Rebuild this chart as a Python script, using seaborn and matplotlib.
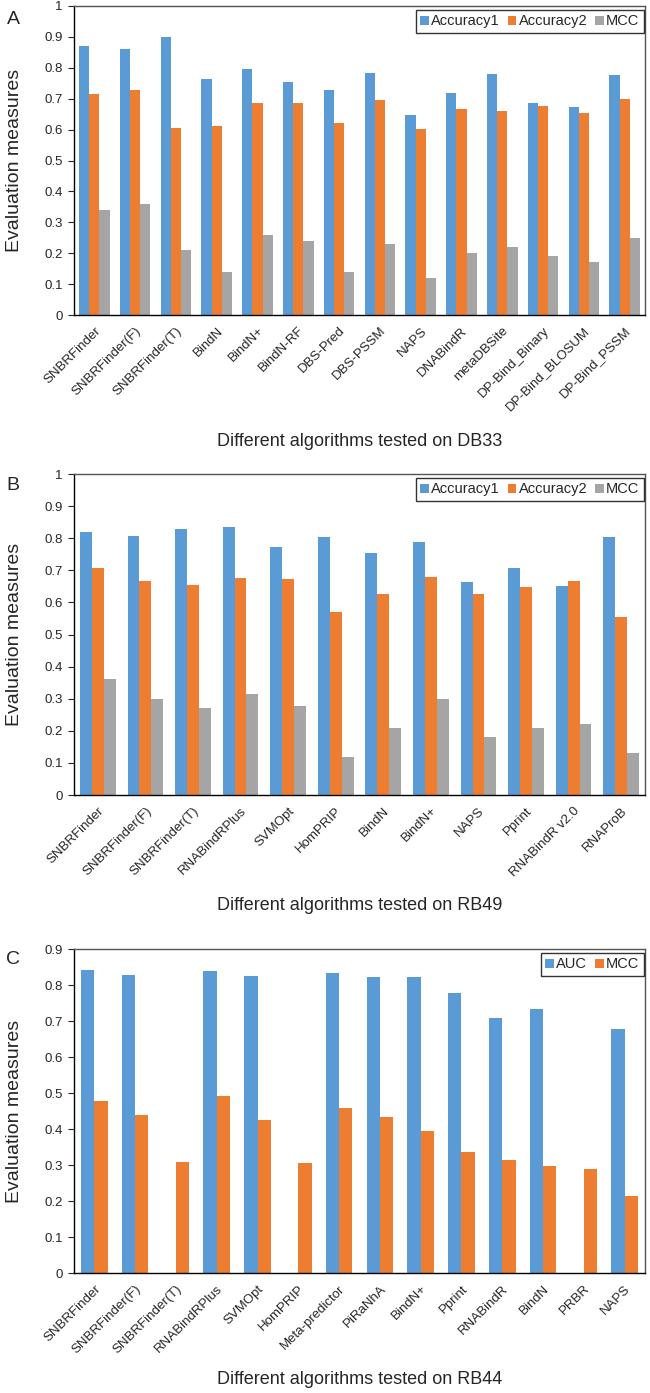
import numpy as np
import pandas as pd
import seaborn as sns
import matplotlib.pyplot as plt

# -----------------------------
# Data
# -----------------------------
algos_a = ['SNBRFinder', 'SNBRFinder(F)', 'SNBRFinder(T)', 'BindN', 'BindN+', 'BindN-RF',
           'DBS-Pred', 'DBS-PSSM', 'NAPS', 'DNABindR', 'metaDBSite', 'DP-Bind_Binary',
           'DP-Bind_BLOSUM', 'DP-Bind_PSSM']
acc1_a = [0.870, 0.860, 0.900, 0.765, 0.795, 0.753, 0.727, 0.783, 0.647, 0.720, 0.780, 0.686, 0.673, 0.776]
acc2_a = [0.716, 0.727, 0.604, 0.613, 0.686, 0.686, 0.621, 0.695, 0.601, 0.666, 0.660, 0.676, 0.653, 0.699]
mcc_a = [0.34, 0.36, 0.21, 0.14, 0.26, 0.24, 0.14, 0.23, 0.12, 0.20, 0.22, 0.19, 0.17, 0.25]

algos_b = ['SNBRFinder', 'SNBRFinder(F)', 'SNBRFinder(T)', 'RNABindRPlus', 'SVMOpt', 'HomPRIP',
           'BindN', 'BindN+', 'NAPS', 'Pprint', 'RNABindR v2.0', 'RNAProB']
acc1_b = [0.818, 0.806, 0.829, 0.834, 0.773, 0.803, 0.755, 0.787, 0.665, 0.707, 0.650, 0.804]
acc2_b = [0.708, 0.667, 0.653, 0.677, 0.672, 0.569, 0.627, 0.678, 0.627, 0.647, 0.668, 0.556]
mcc_b = [0.360, 0.300, 0.270, 0.315, 0.277, 0.117, 0.210, 0.300, 0.180, 0.210, 0.220, 0.130]

algos_c = ['SNBRFinder', 'SNBRFinder(F)', 'SNBRFinder(T)', 'RNABindRPlus', 'SVMOpt', 'HomPRIP',
           'Meta-predictor', 'PiRaNhA', 'BindN+', 'Pprint', 'RNABindR', 'BindN', 'PRBR', 'NAPS']
auc_c = [0.842, 0.827, np.nan, 0.839, 0.825, np.nan, 0.834, 0.822, 0.821, 0.778, 0.708, 0.732, np.nan, 0.678]
mcc_c = [0.479, 0.439, 0.308, 0.492, 0.425, 0.306, 0.457, 0.433, 0.395, 0.337, 0.314, 0.296, 0.290, 0.214]

colors = {'Accuracy1': '#5B9BD5', 'Accuracy2': '#ED7D31', 'MCC': '#A5A5A5', 'AUC': '#5B9BD5'}

sns.set_theme(style='white')
plt.rcParams['font.family'] = ['Liberation Sans', 'DejaVu Sans']

W, H = 650, 1393


def to_long(algos, series):
    frames = []
    for name, vals in series.items():
        frames.append(pd.DataFrame({'Algorithm': algos, 'Measure': name, 'Value': vals}))
    return pd.concat(frames, ignore_index=True)


def make_axes(top_px, bottom_px):
    left, right = 74, 645
    return fig.add_axes([left / W, 1 - bottom_px / H, (right - left) / W, (bottom_px - top_px) / H])


def draw_panel(ax, df, palette, width, ymax, xlabel, xlabel_y):
    sns.barplot(data=df, x='Algorithm', y='Value', hue='Measure', palette=palette,
                width=width, gap=0, ax=ax, saturation=1, linewidth=0)
    ax.set_ylim(0, ymax)
    ax.set_xlim(-0.5, len(df['Algorithm'].unique()) - 0.5)
    ticks = np.round(np.arange(0, ymax + 0.001, 0.1), 1)
    ax.set_yticks(ticks)
    ax.set_yticklabels([('%g' % t) for t in ticks], fontsize=9.5)
    ax.tick_params(axis='y', direction='out', length=4, width=0.8, left=True, pad=4)
    ax.tick_params(axis='x', length=0, pad=7)
    for lab in ax.get_xticklabels():
        lab.set_rotation(45)
        lab.set_ha('right')
        lab.set_rotation_mode('anchor')
        lab.set_fontsize(9.5)
    ax.set_xlabel(xlabel, fontsize=13)
    ax.xaxis.label.set_va('center')
    ax.xaxis.set_label_coords(0.5, xlabel_y)
    ax.set_ylabel('Evaluation measures', fontsize=14)
    ax.yaxis.set_label_coords(-0.09, 0.5)
    for sp in ax.spines.values():
        sp.set_color('black')
        sp.set_linewidth(1.0)
    ax.spines['top'].set_color('#555555')
    ax.spines['right'].set_color('#555555')
    leg = ax.legend(loc='upper right', ncol=len(palette), frameon=True, fancybox=False,
                    edgecolor='black', fontsize=10.5, handlelength=0.6, handleheight=0.6,
                    handletextpad=0.15, columnspacing=0.55, borderpad=0.3, borderaxespad=0,
                    bbox_to_anchor=(0.998, 1 - 4 / (ax.bbox.height)), title=None)
    leg.get_frame().set_linewidth(1.0)


fig = plt.figure(figsize=(W / 100, H / 100), dpi=100)
ax_a = make_axes(6, 315)
ax_b = make_axes(474, 795)
ax_c = make_axes(949, 1273)

df_a = to_long(algos_a, {'Accuracy1': acc1_a, 'Accuracy2': acc2_a, 'MCC': mcc_a})
df_b = to_long(algos_b, {'Accuracy1': acc1_b, 'Accuracy2': acc2_b, 'MCC': mcc_b})
df_c = to_long(algos_c, {'AUC': auc_c, 'MCC': mcc_c})

draw_panel(ax_a, df_a, {k: colors[k] for k in ['Accuracy1', 'Accuracy2', 'MCC']}, 0.75, 1.0,
           'Different algorithms tested on DB33', (315 - 441) / 309)
draw_panel(ax_b, df_b, {k: colors[k] for k in ['Accuracy1', 'Accuracy2', 'MCC']}, 0.75, 1.0,
           'Different algorithms tested on RB49', (795 - 905) / 321)
draw_panel(ax_c, df_c, {'AUC': '#5B9BD5', 'MCC': '#ED7D31'}, 0.65, 0.9,
           'Different algorithms tested on RB44', (1273 - 1380) / 324)

# panel letters
for letter, ypx in [('A', 19), ('B', 485), ('C', 960)]:
    fig.text(13 / W, 1 - ypx / H, letter, fontsize=14, ha='center', va='center')

fig.savefig('out.png', dpi=100)
